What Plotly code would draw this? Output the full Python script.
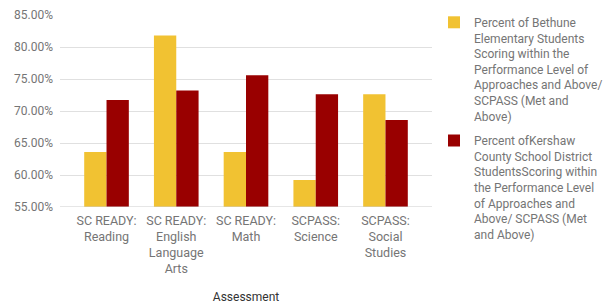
import plotly.graph_objects as go

categories = ["SC READY:<br>Reading", "SC READY:<br>English<br>Language<br>Arts",
              "SC READY:<br>Math", "SCPASS:<br>Science", "SCPASS:<br>Social<br>Studies"]
bethune = [0.636, 0.818, 0.636, 0.592, 0.726]
kershaw = [0.717, 0.732, 0.756, 0.726, 0.686]
name_bethune = ("Percent of Bethune<br>Elementary Students<br>Scoring within the<br>"
                "Performance Level of<br>Approaches and Above/<br>SCPASS (Met and<br>Above)")
name_kershaw = ("Percent ofKershaw<br>County School District<br>StudentsScoring within<br>"
                "the Performance Level<br>of Approaches and<br>Above/ SCPASS (Met<br>and Above)")
y_ticks = [0.55, 0.60, 0.65, 0.70, 0.75, 0.80, 0.85]

FONT = "Roboto, Arial, sans-serif"
fig = go.Figure()
fig.add_trace(go.Bar(x=list(range(5)), y=bethune, name=name_bethune, legendgroup="a",
                     marker=dict(color="#f1c232", line=dict(width=0))))
fig.add_trace(go.Bar(x=list(range(5)), y=kershaw, name=name_kershaw, legendgroup="b",
                     marker=dict(color="#990000", line=dict(width=0))))

fig.update_layout(
    width=603, height=296,
    margin=dict(l=52, r=179, t=7, b=97, autoexpand=False),
    paper_bgcolor="white", plot_bgcolor="white",
    font=dict(family=FONT, size=12, color="#757575"),
    barmode="group", bargap=0.36, bargroupgap=0.0,
    showlegend=True,
    legend=dict(xref="container", yref="container", x=0.7065, y=1.0,
                xanchor="left", yanchor="top", valign="top",
                font=dict(family=FONT, size=12, color="#757575"),
                tracegroupgap=6, bgcolor="rgba(0,0,0,0)", maxheight=300),
)
fig.update_xaxes(
    tickmode="array", tickvals=list(range(5)), ticktext=categories,
    range=[-0.667, 4.667], showgrid=False, zeroline=False, automargin=False,
    showline=False, ticks="", ticklabelstandoff=4,
    tickfont=dict(size=12.5, color="#757575"),
    title=dict(text="Assessment", font=dict(size=12, color="#333333"), standoff=21),
)
fig.update_yaxes(
    range=[0.55, 0.85], tickmode="array", tickvals=y_ticks, automargin=False,
    tickformat=".2%", showgrid=True, gridcolor="#e0e0e0", gridwidth=1,
    zeroline=False, showline=False, ticks="", ticklabelstandoff=6,
    tickfont=dict(size=12, color="#757575"),
)
fig.add_shape(type="line", xref="paper", yref="y", x0=0, x1=1, y0=0.55, y1=0.55,
              line=dict(color="#cccccc", width=1))
fig.write_html("out.html")
